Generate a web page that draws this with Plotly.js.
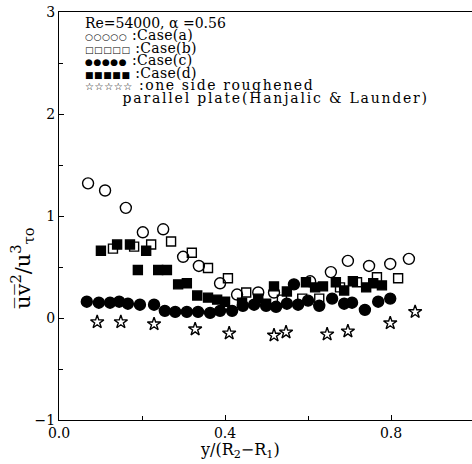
<!DOCTYPE html>
<html>
<head>
<meta charset="utf-8">
<script src="https://cdn.plot.ly/plotly-3.0.1.min.js"></script>
<style>html,body{margin:0;padding:0;background:#fff;}#chart{width:472px;height:464px;}</style>
</head>
<body>
<div id="chart"></div>
<script>
// Case (a): open circles
const caseA_x = [0.070,0.111,0.161,0.202,0.251,0.299,0.337,0.388,0.429,0.480,0.518,0.605,0.655,0.696,0.747,0.798,0.843];
const caseA_y = [1.32,1.25,1.08,0.84,0.87,0.60,0.51,0.34,0.23,0.25,0.25,0.36,0.45,0.56,0.51,0.53,0.58];
// Case (b): open squares
const caseB_x = [0.130,0.181,0.222,0.270,0.320,0.359,0.407,0.451,0.537,0.586,0.627,0.677,0.718,0.766,0.817];
const caseB_y = [0.68,0.70,0.72,0.75,0.64,0.49,0.39,0.25,0.18,0.19,0.19,0.30,0.35,0.40,0.39];
// Case (c): filled circles
const caseC_x = [0.067,0.096,0.123,0.145,0.166,0.195,0.229,0.255,0.280,0.308,0.335,0.364,0.388,0.417,0.443,0.470,0.499,0.523,0.549,0.566,0.576,0.600,0.627,0.658,0.687,0.706,0.737,0.769,0.798];
const caseC_y = [0.16,0.15,0.15,0.16,0.14,0.13,0.13,0.07,0.06,0.06,0.06,0.05,0.07,0.07,0.12,0.13,0.12,0.11,0.14,0.33,0.13,0.17,0.12,0.19,0.14,0.15,0.08,0.16,0.19];
// Case (d): filled squares
const caseD_x = [0.101,0.140,0.171,0.210,0.190,0.239,0.260,0.287,0.308,0.333,0.359,0.381,0.400,0.441,0.480,0.499,0.518,0.549,0.595,0.617,0.636,0.667,0.687,0.708,0.740,0.757,0.778];
const caseD_y = [0.66,0.72,0.72,0.66,0.47,0.47,0.47,0.33,0.34,0.22,0.20,0.18,0.16,0.15,0.19,0.14,0.31,0.26,0.35,0.30,0.31,0.35,0.27,0.36,0.30,0.34,0.32];
// One side roughened parallel plate (Hanjalic & Launder): open stars
const plate_x = [0.092,0.149,0.229,0.328,0.410,0.518,0.547,0.646,0.696,0.798,0.858];
const plate_y = [-0.04,-0.04,-0.06,-0.11,-0.15,-0.17,-0.14,-0.16,-0.13,-0.05,0.06];

const headerText = "Re=54000, α =0.56";
const legendSymbols = ["○○○○○", "□□□□□", "●●●●●", "■■■■■", "☆☆☆☆☆"];
const legendLabels = [":Case(a)", ":Case(b)", ":Case(c)", ":Case(d)", ":one side roughened"];
const legendLast = "parallel plate(Hanjalic & Launder)";
const xTitle = "y/(R<sub>2</sub>−R<sub>1</sub>)";
const yTitle = "u̅v̅<sup>2</sup>/u<sup>3</sup><sub>τo</sub>";

const serif = "DejaVu Serif, Liberation Serif, serif";
const W = 413, H = 408, L = 59, T = 12;
const px = (x) => (x - L) / W;
const py = (y) => 1 - (y - T) / H;

function sc(x, y, sym, size) {
  return {x: x, y: y, type: 'scatter', mode: 'markers', showlegend: false,
    marker: {symbol: sym, size: size, color: '#000', line: {color: '#000', width: 1.4}}};
}
const data = [
  sc(caseA_x, caseA_y, 'circle-open', 11),
  sc(caseB_x, caseB_y, 'square-open', 9),
  sc(caseC_x, caseC_y, 'circle', 11),
  sc(caseD_x, caseD_y, 'square', 9),
  sc(plate_x, plate_y, 'star-open', 10)
];

const big = (t, ls) => '<span style="font-size:14px;letter-spacing:' + (ls || 0) + 'px">' + t + '</span>';
const sym = (t, sz) => '<span style="font-family:DejaVu Sans;font-size:' + sz + 'px;letter-spacing:0.6px">' + t + '</span>';
const legendLinesHtml = [big(headerText)];
legendSymbols.forEach((s, i) => {
  legendLinesHtml.push(sym(s, i === 4 ? 10 : 9) + big('\u00a0' + legendLabels[i], i === 4 ? 1.6 : 0.3));
});
legendLinesHtml.push(big('\u00a0\u00a0\u00a0\u00a0\u00a0\u00a0' + legendLast, 1.8));

const annotations = [
  {xref: 'paper', yref: 'paper', x: px(83), y: py(13), xanchor: 'left', yanchor: 'top', align: 'left',
   text: legendLinesHtml.join('<br>'), showarrow: false,
   font: {family: serif, size: 9.6, color: '#000'}},
  {xref: 'paper', yref: 'paper', x: px(240), y: py(450), xanchor: 'center', yanchor: 'middle',
   text: xTitle, showarrow: false, font: {family: serif, size: 16, color: '#000'}},
  {xref: 'paper', yref: 'paper', x: px(22), y: py(268), xanchor: 'center', yanchor: 'middle', textangle: -90,
   text: yTitle, showarrow: false, font: {family: serif, size: 21, color: '#000'}}
];

const layout = {
  width: 472, height: 464,
  margin: {l: 59, r: 0, t: 12, b: 44},
  paper_bgcolor: '#fff', plot_bgcolor: '#fff',
  showlegend: false,
  font: {family: serif, size: 14, color: '#000'},
  xaxis: {range: [0, 0.995], dtick: 0.4, tick0: 0, tickformat: '.1f', ticks: 'inside', ticklen: 5,
    tickcolor: '#000', showline: true, linecolor: '#000', linewidth: 1, mirror: true,
    showgrid: false, zeroline: false, minor: {dtick: 0.2, ticks: 'inside', ticklen: 4, tickcolor: '#000'},
    tickfont: {family: serif, size: 14}},
  yaxis: {range: [-1, 3], dtick: 1, tick0: 0, ticks: 'inside', ticklen: 5, tickcolor: '#000',
    showline: true, linecolor: '#000', linewidth: 1, showgrid: false, zeroline: false,
    minor: {dtick: 0.5, ticks: 'inside', ticklen: 4, tickcolor: '#000'},
    tickfont: {family: serif, size: 14}},
  annotations: annotations
};
Plotly.newPlot('chart', data, layout, {displayModeBar: false, staticPlot: true});
</script>
</body>
</html>
